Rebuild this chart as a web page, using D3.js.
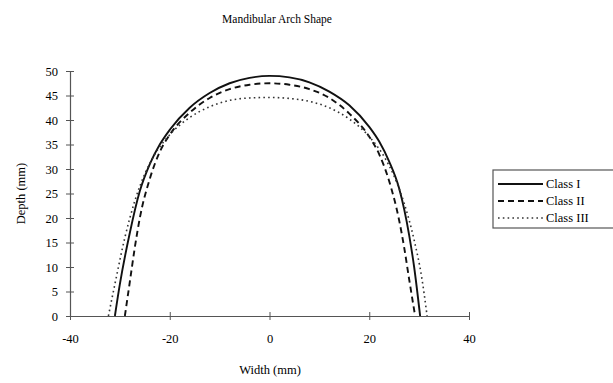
<!DOCTYPE html>
<html>
<head>
<meta charset="utf-8">
<script src="https://cdn.jsdelivr.net/npm/d3@7"></script>
<style>
  html, body { margin: 0; padding: 0; background: #fff; }
  svg { display: block; font-family: "Liberation Serif", "Times New Roman", serif; }
</style>
</head>
<body>
<svg id="chart" width="613" height="383"></svg>
<script>
// Arch curves: width (mm) against depth (mm) for each malocclusion class
const class1X = [-31, -30, -28, -26, -24, -22, -20, -16, -12, -8, -4, 0, 4, 8, 12, 16, 20, 22, 24, 26, 28, 29, 30.2];
const class1Y = [0, 6.5, 17, 25.5, 31, 35, 38, 42.5, 45.5, 47.5, 48.6, 49, 48.7, 47.7, 45.8, 43, 38.6, 35.6, 31.5, 26, 16.5, 10, 0];

const class2X = [-29, -28, -27, -26, -24, -22, -20, -16, -12, -8, -4, 0, 4, 8, 12, 16, 20, 22, 24, 26, 27, 28, 29.2];
const class2Y = [0, 7, 14, 20, 28, 33.5, 37, 41.5, 44.5, 46.3, 47.2, 47.5, 47.2, 46.3, 44.5, 41.3, 36.6, 33, 27.5, 19.5, 14, 7.5, 0];

const class3X = [-32.3, -31, -29, -27, -25, -23, -20, -16, -12, -8, -4, 0, 4, 8, 12, 16, 20, 23, 25, 27, 29, 30.5, 31.6];
const class3Y = [0, 6.5, 16, 23.5, 29, 33, 37, 40.5, 42.7, 44, 44.5, 44.6, 44.4, 43.8, 42.5, 40.2, 36.6, 32.5, 28.5, 23, 15.5, 8, 0];

const seriesNames = ["Class I", "Class II", "Class III"];
const xTicks = [-40, -20, 0, 20, 40];
const yTicks = [0, 5, 10, 15, 20, 25, 30, 35, 40, 45, 50];

const series = [
  { name: seriesNames[0], xs: class1X, ys: class1Y, dash: null, width: 1.9, color: "#111" },
  { name: seriesNames[1], xs: class2X, ys: class2Y, dash: "6,4", width: 1.9, color: "#111" },
  { name: seriesNames[2], xs: class3X, ys: class3Y, dash: "1.6,3.2", width: 1.6, color: "#333" }
];

const svg = d3.select("#chart");
const axisInk = "#555";

const x = d3.scaleLinear().domain([-40, 40]).range([70, 469]);
const y = d3.scaleLinear().domain([0, 50]).range([316, 71]);

// Title
svg.append("text")
  .attr("x", 277).attr("y", 23)
  .attr("text-anchor", "middle")
  .attr("font-size", 11.5)
  .attr("fill", "#000")
  .text("Mandibular Arch Shape");

// Y axis with ticks crossing the line
const yAxis = svg.append("g").attr("transform", `translate(${x(-40)},0)`)
  .call(d3.axisLeft(y).tickValues(yTicks).tickFormat(d => String(d)).tickSize(4).tickSizeOuter(0));
yAxis.select(".domain").attr("stroke", axisInk).attr("stroke-width", 1.2);
yAxis.selectAll(".tick line").attr("x2", 4).attr("x1", -4).attr("stroke", axisInk);
yAxis.selectAll(".tick text")
  .attr("x", -12)
  .attr("font-family", "Liberation Serif, serif")
  .attr("font-size", 12.5).attr("fill", "#000");

// X axis along depth zero
const xAxis = svg.append("g").attr("transform", `translate(0,${y(0)})`)
  .call(d3.axisBottom(x).tickValues(xTicks).tickFormat(d => String(d)).tickSize(4).tickSizeOuter(0));
xAxis.select(".domain").attr("stroke", axisInk).attr("stroke-width", 1.2);
xAxis.selectAll(".tick line").attr("y1", -4).attr("y2", 4).attr("stroke", axisInk);
xAxis.selectAll(".tick text")
  .attr("y", 18)
  .attr("font-family", "Liberation Serif, serif")
  .attr("font-size", 12.5).attr("fill", "#000");

// Axis titles
svg.append("text")
  .attr("x", 270).attr("y", 374)
  .attr("text-anchor", "middle")
  .attr("font-size", 12.5).attr("fill", "#000")
  .text("Width (mm)");

svg.append("text")
  .attr("transform", `translate(25,${(y(0) + y(50)) / 2}) rotate(-90)`)
  .attr("text-anchor", "middle")
  .attr("font-size", 12.5).attr("fill", "#000")
  .text("Depth (mm)");

// Arch curves
const line = d3.line()
  .x(d => x(d[0]))
  .y(d => y(d[1]))
  .curve(d3.curveMonotoneX);

svg.append("g").selectAll("path")
  .data(series)
  .join("path")
  .attr("d", s => line(d3.zip(s.xs, s.ys)))
  .attr("fill", "none")
  .attr("stroke", s => s.color)
  .attr("stroke-width", s => s.width)
  .attr("stroke-dasharray", s => s.dash);

// Legend
const legend = svg.append("g").attr("transform", "translate(493,170)");
legend.append("rect")
  .attr("x", 0).attr("y", 0)
  .attr("width", 140).attr("height", 58)
  .attr("fill", "#fff")
  .attr("stroke", axisInk).attr("stroke-width", 1.2);

const rows = legend.selectAll("g.row")
  .data(series)
  .join("g")
  .attr("class", "row")
  .attr("transform", (d, i) => `translate(0,${14 + i * 17})`);

rows.append("line")
  .attr("x1", 5).attr("x2", 50)
  .attr("y1", 0).attr("y2", 0)
  .attr("stroke", d => d.color)
  .attr("stroke-width", d => d.width)
  .attr("stroke-dasharray", d => d.dash);

rows.append("text")
  .attr("x", 53).attr("y", 4)
  .attr("font-size", 12.5).attr("fill", "#000")
  .text(d => d.name);
</script>
</body>
</html>
